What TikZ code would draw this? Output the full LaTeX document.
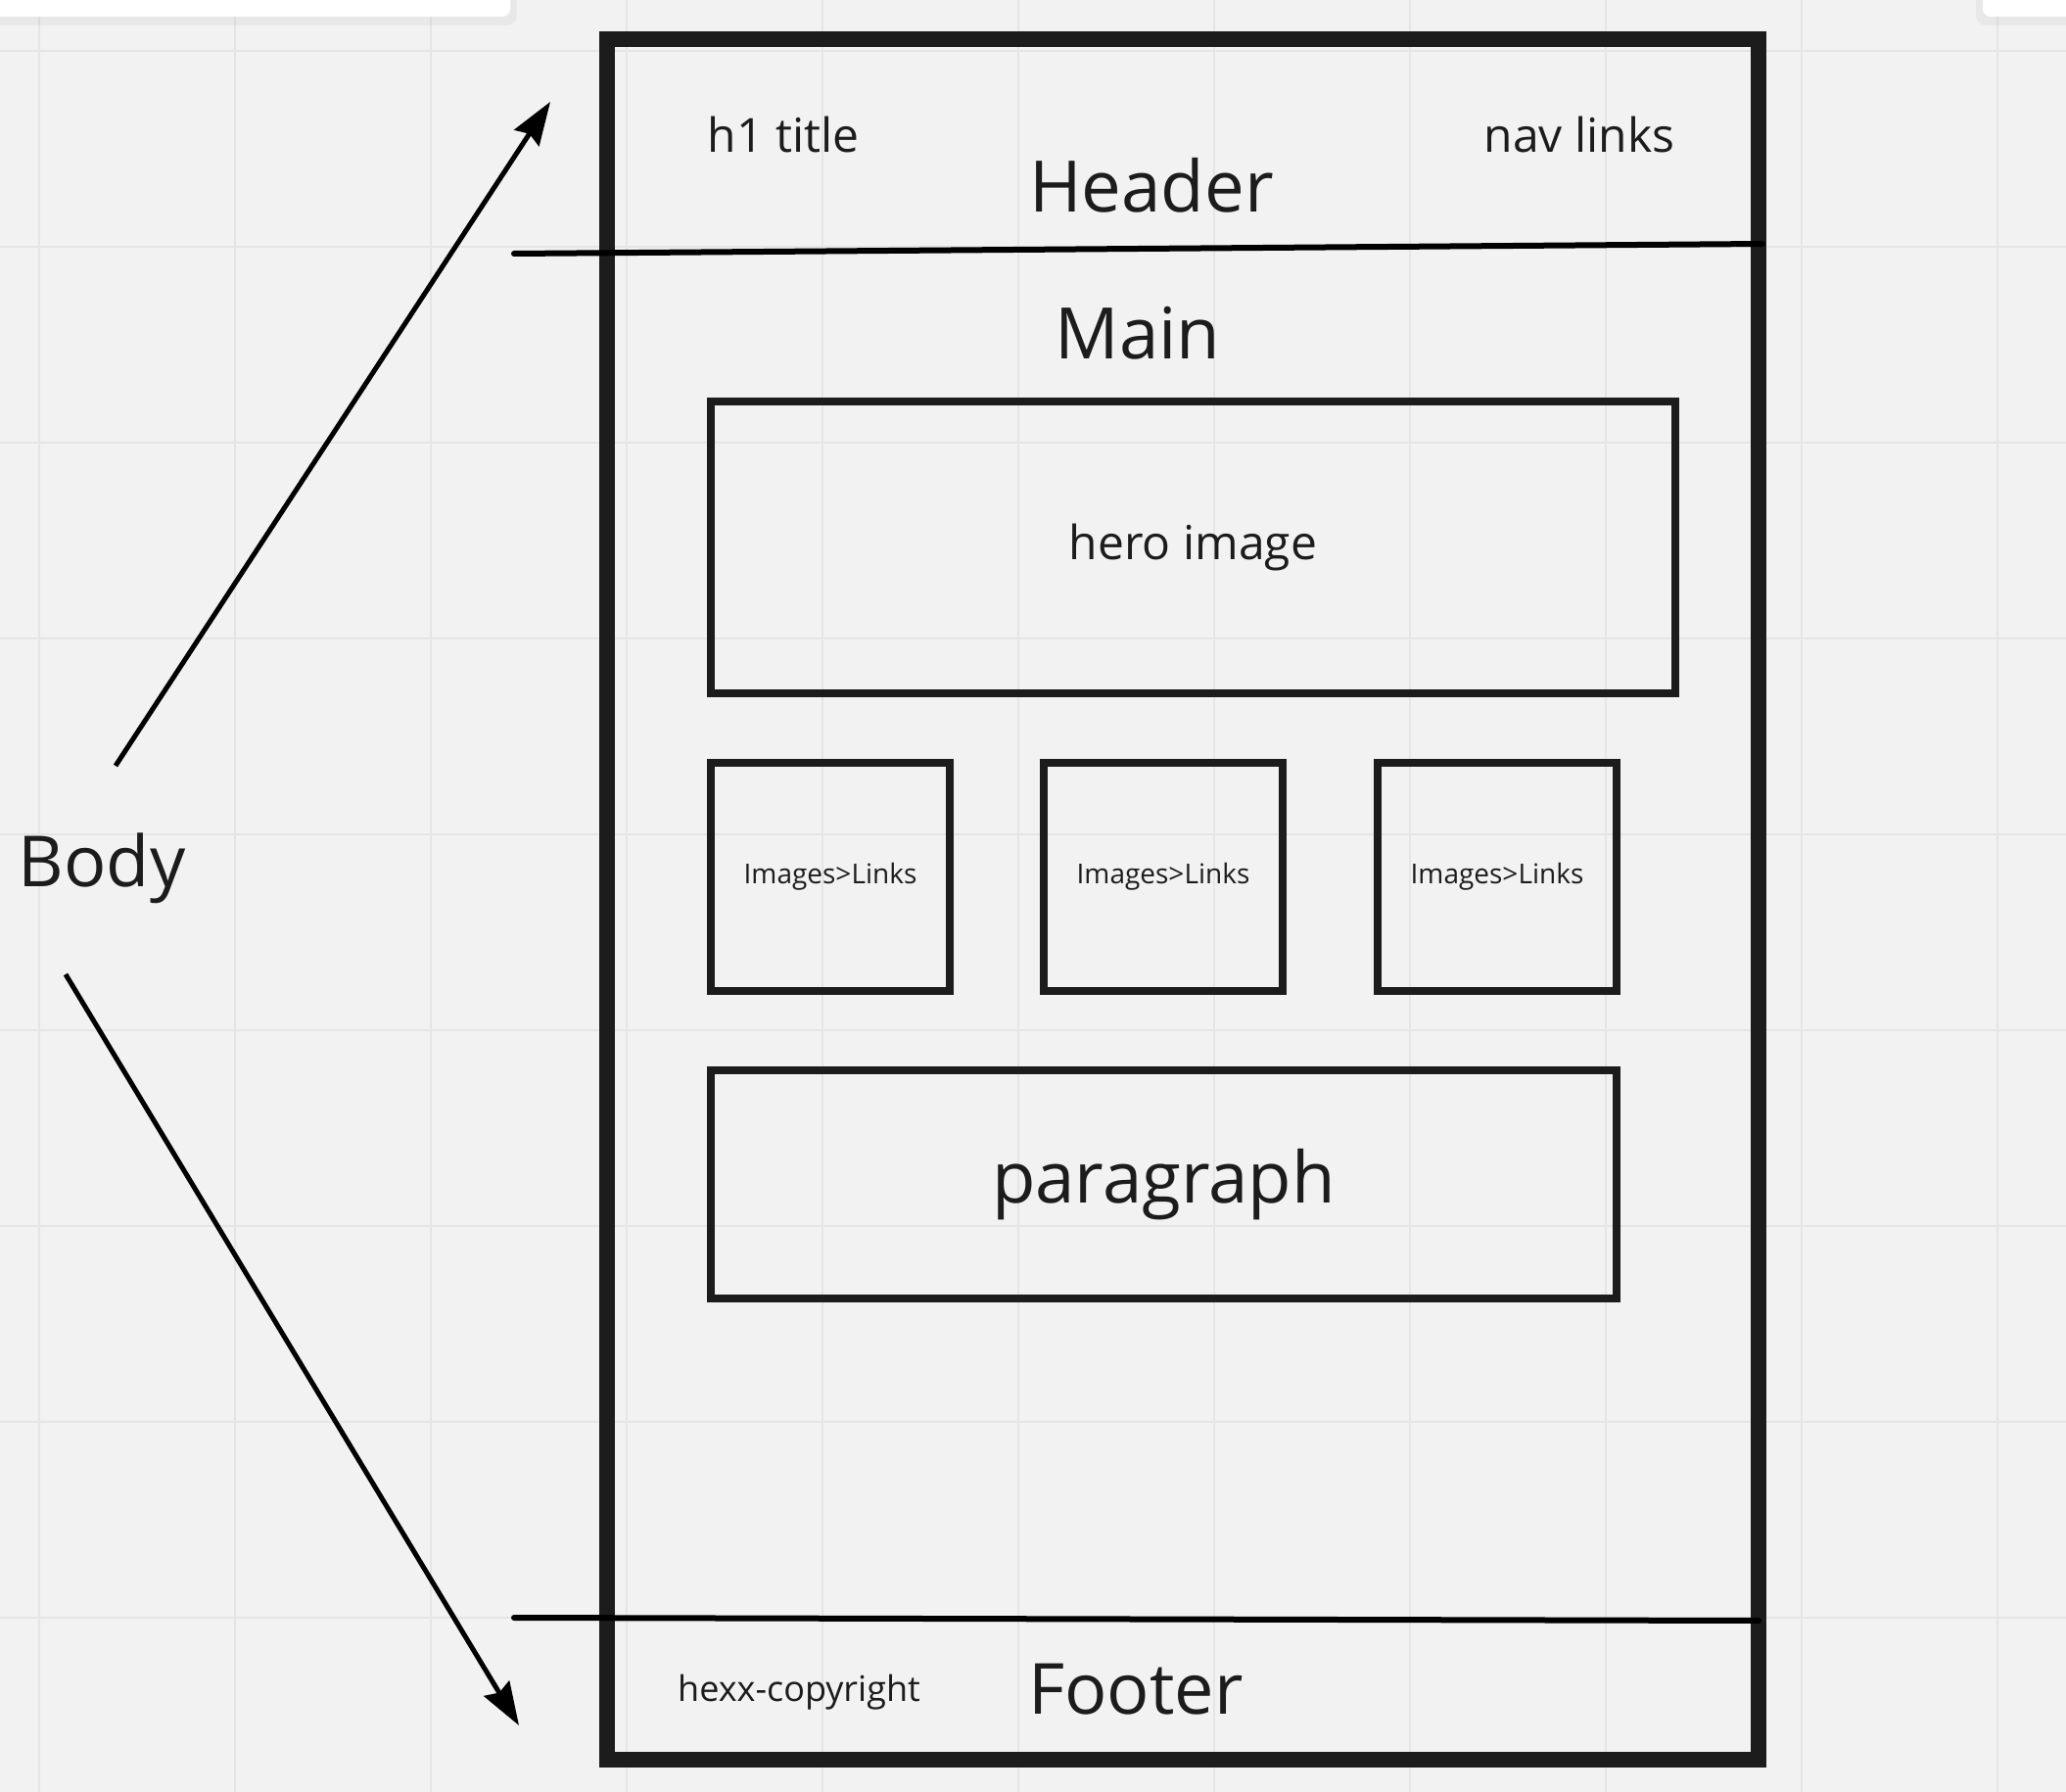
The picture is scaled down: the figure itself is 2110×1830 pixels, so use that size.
\documentclass[tikz,border=0pt]{standalone}
\usepackage{fontspec}
\setmainfont{Open Sans}
\usepackage{tikz}
\usetikzlibrary{arrows.meta}
\definecolor{canvas}{HTML}{F2F2F2}
\definecolor{gridgray}{HTML}{E5E5E5}
\definecolor{ink}{HTML}{1C1C1C}
\tikzstyle{gridline} = [draw=gridgray, line width=1pt]
\tikzstyle{pageframe} = [draw=ink, line width=8pt, rectangle, inner sep=0pt, minimum width=588pt, minimum height=878.5pt]
\tikzstyle{wirebox} = [draw=ink, line width=4pt, rectangle, inner sep=0pt, text=ink]
\tikzstyle{divider} = [draw=black, line width=3pt, line cap=round]
\tikzstyle{pointer} = [draw=black, line width=2.5pt, -{Stealth[length=22pt, width=15pt, inset=2.5pt]}]
\tikzstyle{bigtext} = [font=\fontsize{36.3pt}{44pt}\selectfont, text=ink, anchor=base, inner sep=0pt]
\tikzstyle{midtext} = [font=\fontsize{24pt}{29pt}\selectfont, text=ink, anchor=base, inner sep=0pt]
\tikzstyle{smalltext} = [font=\fontsize{18pt}{22pt}\selectfont, text=ink, anchor=base, inner sep=0pt]

\begin{document}
\begin{tikzpicture}[x=0.5pt, y=-0.5pt]
\useasboundingbox (0,0) rectangle (2110,1830);
\fill[canvas] (0,0) rectangle (2110,1830);
\foreach \gx in {40,240,...,2040} \draw[gridline] (\gx,0) -- (\gx,1830);
\foreach \gy in {52,252,...,1652} \draw[gridline] (0,\gy) -- (2110,\gy);

\fill[black, opacity=0.04, rounded corners=5pt] (-20,-20) rectangle (528,26);
\fill[white, rounded corners=4pt] (-20,-20) rectangle (521,17);
\fill[black, opacity=0.04, rounded corners=5pt] (2018,-20) rectangle (2130,26);
\fill[white, rounded corners=4pt] (2025,-20) rectangle (2130,17);

\node[pageframe] (page) at (1208,918.5) {};

\node[midtext] (title) at (800,156) {h1 title};
\node[midtext] (nav) at (1613,156) {nav links};
\node[bigtext] (header) at (1176,217) {Header};
\coordinate (hdivl) at (525,259);
\coordinate (hdivr) at (1800,249);
\draw[divider] (hdivl) -- (hdivr);

\node[bigtext] (main) at (1162,366) {Main};
\node[wirebox, minimum width=492.5pt, minimum height=149pt, font=\fontsize{24pt}{29pt}\selectfont] (hero) at (1218.5,559) {hero image};

\foreach \bx/\bname in {848/linka, 1188/linkb, 1529/linkc}
  \node[wirebox, minimum width=122pt, minimum height=116.5pt, font=\fontsize{14pt}{17pt}\selectfont] (\bname) at (\bx,895.5) {Images>Links};

\node[wirebox, minimum width=462.5pt, minimum height=116.5pt, font=\fontsize{36.3pt}{44pt}\selectfont] (para) at (1188.5,1209.5) {paragraph};

\coordinate (fdivl) at (525,1652);
\coordinate (fdivr) at (1796,1655);
\draw[divider] (fdivl) -- (fdivr);
\node[smalltext] (copy) at (816,1737) {hexx-copyright};
\node[bigtext, font=\fontsize{36pt}{43pt}\selectfont] (footer) at (1160,1750) {Footer};

\node[bigtext, font=\fontsize{36pt}{43pt}\selectfont] (body) at (104,905) {Body};
\coordinate (upfrom) at (118,782);
\coordinate (upto) at (562,104);
\coordinate (downfrom) at (67,995);
\coordinate (downto) at (530,1762);
\draw[pointer] (upfrom) -- (upto);
\draw[pointer] (downfrom) -- (downto);
\end{tikzpicture}
\end{document}
